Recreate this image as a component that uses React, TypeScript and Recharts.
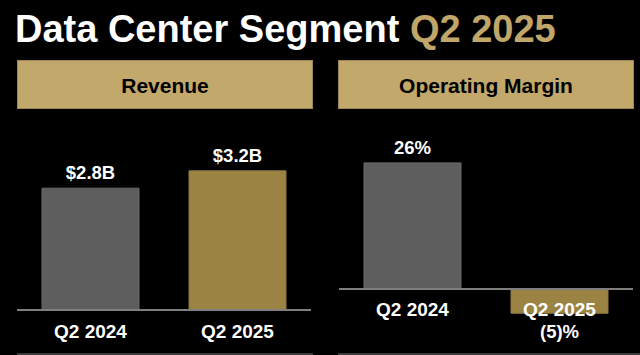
import React from 'react';
import { BarChart, Bar, XAxis, YAxis, Cell, LabelList, ReferenceLine } from 'recharts';

const periods = ['Q2 2024', 'Q2 2025'];
const revenueValues = [2.8, 3.2];
const marginValues = [26, -5];
const barColors = ['#5e5e5e', '#9a8343'];
const barEdges = ['#6a6a6a', '#8d7840'];

const titleMain = 'Data Center Segment';
const titleAccent = 'Q2 2025';
const panelTitles = ['Revenue', 'Operating Margin'];

const revenueData = periods.map((p, i) => ({ period: p, value: revenueValues[i] }));
const marginData = periods.map((p, i) => ({ period: p, value: marginValues[i] }));

const FONT = '"Liberation Sans", Arial, Helvetica, sans-serif';
const GOLD_BOX = '#c2a86b';
const GOLD_TEXT = '#c1a669';

const fmtRevenue = (v: number) => `$${v.toFixed(1)}B`;
const fmtMargin = (v: number) => (v < 0 ? `(${-v})%` : `${v}%`);

const makeValueLabel = (fmt: (v: number) => string, above: number, below: number) => (props: any) => {
  const x = Number(props.x);
  const y = Number(props.y);
  const width = Number(props.width);
  const height = Number(props.height);
  const value = Number(props.value);
  const top = Math.min(y, y + height);
  const bottom = Math.max(y, y + height);
  const neg = value < 0;
  return (
    <text
      x={x + width / 2}
      y={neg ? bottom + below : top - above}
      textAnchor="middle"
      fill="#ffffff"
      fontSize={18.5}
      fontWeight={700}
      fontFamily={FONT}
    >
      {fmt(value)}
    </text>
  );
};

const makeTick = (shift: number) => (props: any) => {
  const { x, y, payload } = props;
  return (
    <text
      x={x}
      y={Number(y) + shift}
      textAnchor="middle"
      fill="#ffffff"
      fontSize={19}
      fontWeight={700}
      fontFamily={FONT}
    >
      {payload.value}
    </text>
  );
};

export default function App() {
  return (
    <div
      style={{
        position: 'absolute',
        left: 0,
        top: 0,
        width: 640,
        height: 355,
        background: '#000000',
        overflow: 'hidden',
      }}
    >
      <svg width={640} height={355} style={{ position: 'absolute', left: 0, top: 0 }}>
        <rect x={0} y={0} width={640} height={355} fill="#000" />
        <text x={15} y={42} fontSize={38} fontWeight={700} fontFamily={FONT} fill="#ffffff">
          {titleMain}
          <tspan fill={GOLD_TEXT}>{' ' + titleAccent}</tspan>
        </text>
        <rect x={17.5} y={60.5} width={295} height={48} fill={GOLD_BOX} stroke="#9d8752" strokeWidth={1} />
        <rect x={338.5} y={60.5} width={295} height={48} fill={GOLD_BOX} stroke="#9d8752" strokeWidth={1} />
        <text x={165} y={92.5} textAnchor="middle" fontSize={21} fontWeight={700} fontFamily={FONT} fill="#000">
          {panelTitles[0]}
        </text>
        <text x={486} y={92.5} textAnchor="middle" fontSize={21} fontWeight={700} fontFamily={FONT} fill="#000">
          {panelTitles[1]}
        </text>
        <line x1={17} x2={313} y1={354} y2={354} stroke="#3a3a3a" strokeWidth={2} />
        <line x1={338} x2={640} y1={354} y2={354} stroke="#3a3a3a" strokeWidth={2} />
      </svg>

      <div style={{ position: 'absolute', left: 17, top: 120 }}>
        <BarChart
          width={294}
          height={235}
          data={revenueData}
          margin={{ top: 16, right: 0, bottom: 0, left: 0 }}
        >
          <YAxis hide type="number" domain={[0, 4]} />
          <Bar dataKey="value" barSize={97} isAnimationActive={false}>
            {revenueData.map((d, i) => (
              <Cell key={d.period} fill={barColors[i]} stroke={barEdges[i]} strokeWidth={1} />
            ))}
            <LabelList dataKey="value" content={makeValueLabel(fmtRevenue, 9, 25)} />
          </Bar>
          <XAxis
            dataKey="period"
            height={45}
            tickSize={0}
            tickMargin={0}
            tickLine={false}
            axisLine={{ stroke: '#7f7f7f', strokeWidth: 2 }}
            tick={makeTick(27.5)}
            interval={0}
          />
        </BarChart>
      </div>

      <div style={{ position: 'absolute', left: 339, top: 120 }}>
        <BarChart
          width={294}
          height={235}
          data={marginData}
          margin={{ top: 23.5, right: 0, bottom: 0, left: 0 }}
        >
          <YAxis hide type="number" domain={[-10, 30]} />
          <Bar dataKey="value" barSize={97} isAnimationActive={false}>
            {marginData.map((d, i) => (
              <Cell key={d.period} fill={barColors[i]} stroke={barEdges[i]} strokeWidth={1} />
            ))}
            <LabelList dataKey="value" content={makeValueLabel(fmtMargin, 9, 25)} />
          </Bar>
          <ReferenceLine y={0} stroke="#7f7f7f" strokeWidth={2} />
          <XAxis
            dataKey="period"
            height={17.5}
            tickSize={0}
            tickMargin={0}
            tickLine={false}
            axisLine={false}
            tick={makeTick(-22)}
            interval={0}
          />
        </BarChart>
      </div>
    </div>
  );
}
